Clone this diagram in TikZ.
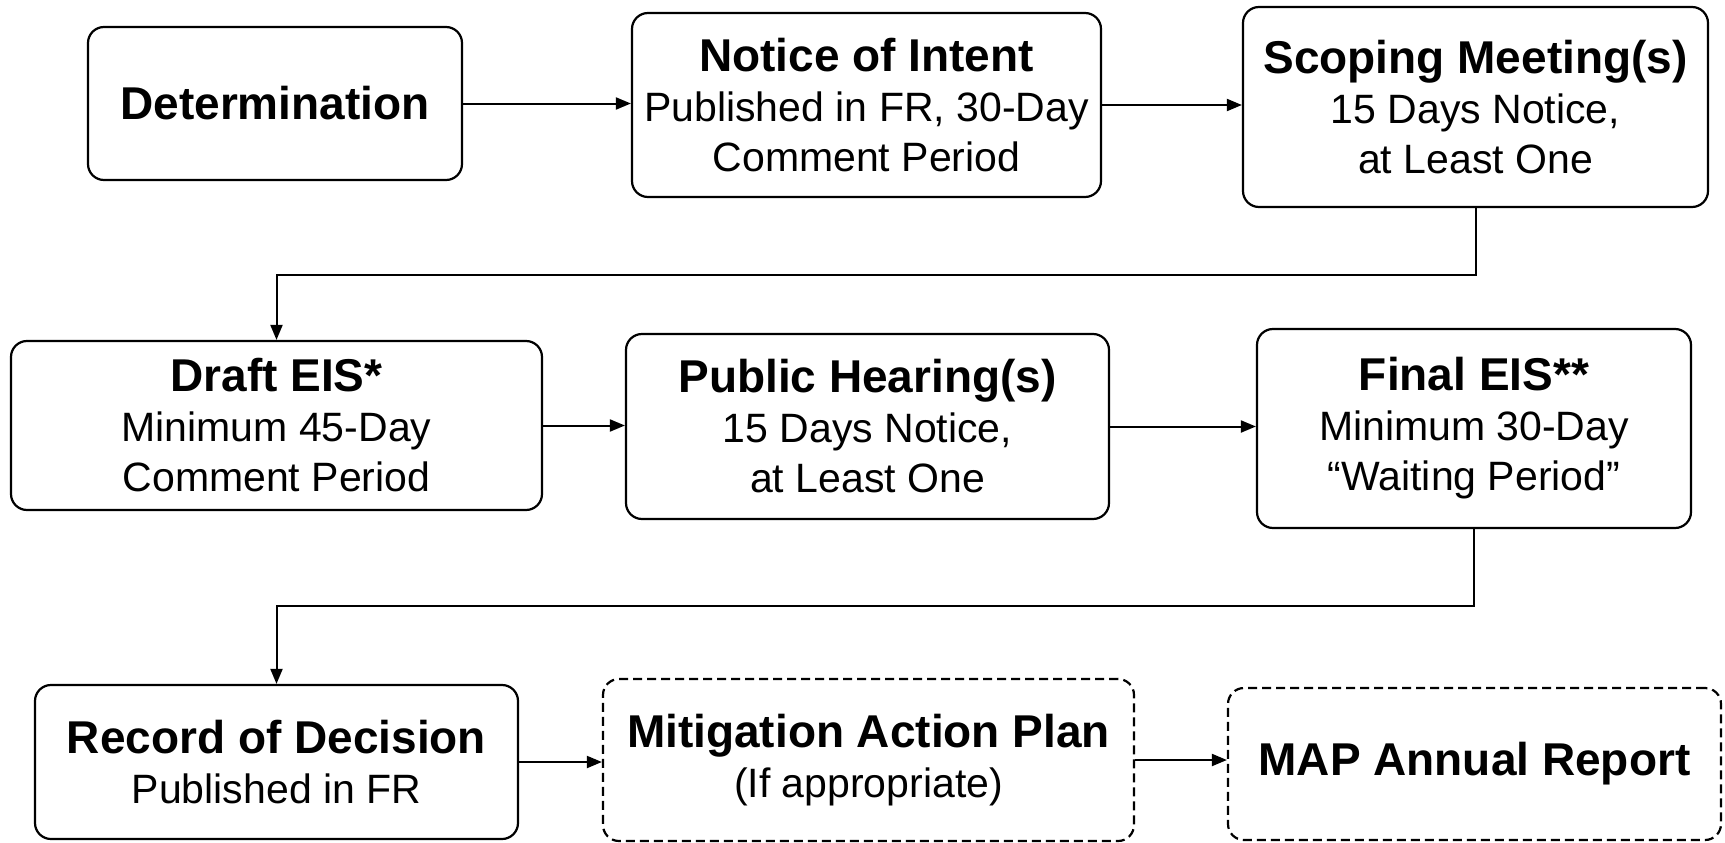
\documentclass[tikz,border=0pt]{standalone}
\usepackage{fontspec}
\setmainfont{Liberation Sans}
\usetikzlibrary{arrows.meta}
\tikzset{
  box/.style={draw=black, line width=2.2pt, rounded corners=16pt, inner sep=0pt, align=center,
    font=\fontsize{41}{50}\selectfont},
  dbox/.style={box, dash pattern=on 9pt off 5pt},
  arr/.style={line width=2pt, -{Triangle[length=15pt,width=12pt]}},
}
\newcommand{\ttl}[1]{{\bfseries\fontsize{46}{50}\selectfont #1}}
\begin{document}
\begin{tikzpicture}[x=1pt,y=-1pt]
\useasboundingbox (0,0) rectangle (1725,843);
% row 1
\node[box, minimum width=374pt, minimum height=153pt] (det) at (275,103.5) {\ttl{Determination}};
\node[box, minimum width=469pt, minimum height=184pt] (noi) at (866.5,105) {\ttl{Notice of Intent}\\Published in FR, 30-Day\\Comment Period};
\node[box, minimum width=465pt, minimum height=200pt] (sco) at (1475.5,107) {\ttl{Scoping Meeting(s)}\\15 Days Notice,\\at Least One};
% row 2
\node[box, minimum width=531pt, minimum height=169pt] (dra) at (276.5,425.5) {\ttl{Draft EIS*}\\Minimum 45-Day\\Comment Period};
\node[box, minimum width=483pt, minimum height=185pt] (pub) at (867.5,426.5) {\ttl{Public Hearing(s)}\\15 Days Notice,\\at Least One};
\node[box, minimum width=434pt, minimum height=199pt] (fin) at (1474,428.5) {\ttl{Final EIS**}\\Minimum 30-Day\\“Waiting Period”};
% row 3
\node[box, minimum width=483pt, minimum height=154pt] (rec) at (276.5,762) {\ttl{Record of Decision}\\Published in FR};
\node[dbox, minimum width=531pt, minimum height=162pt] (mit) at (868.5,760) {\ttl{Mitigation Action Plan}\\(If appropriate)};
\node[dbox, minimum width=493pt, minimum height=152pt] (map) at (1474.5,764) {\ttl{MAP Annual Report}};
% junctions
\coordinate (j1) at (276.5,275);
\coordinate (j2) at (276.5,606);
% connectors
\draw[arr] (det.east) -- (det.east -| noi.west);
\draw[arr] (noi.east) -- (noi.east -| sco.west);
\draw[arr] (sco.south) |- (j1) -- (dra.north);
\draw[arr] (dra.east) -- (dra.east -| pub.west);
\draw[arr] (pub.east) -- (pub.east -| fin.west);
\draw[arr] (fin.south) |- (j2) -- (rec.north);
\draw[arr] (rec.east) -- (rec.east -| mit.west);
\draw[arr] (mit.east) -- (mit.east -| map.west);
\end{tikzpicture}
\end{document}
